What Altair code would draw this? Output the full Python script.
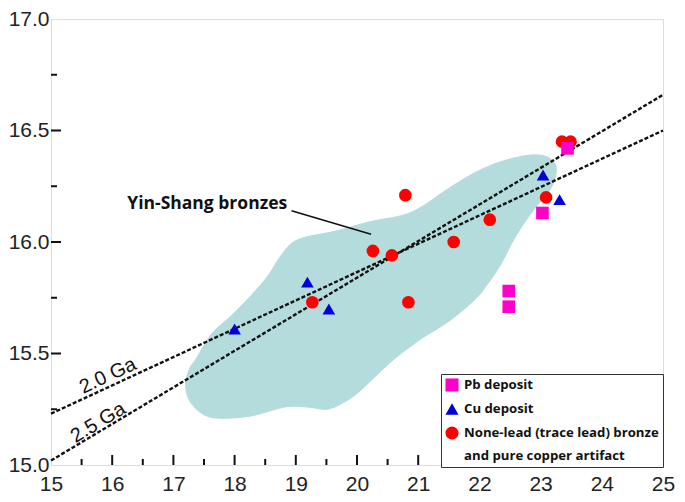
import altair as alt
import pandas as pd

# ---- data ----
types = ["Pb deposit", "Cu deposit", "None-lead (trace lead) bronze|and pure copper artifact"]
colors = ["#ff00cc", "#0000dd", "#ff0000"]
shapes = ["square", "triangle-up", "circle"]

bronze_x = [19.27, 20.26, 20.57, 20.79, 20.84, 21.58, 22.17, 23.09, 23.35, 23.49]
bronze_y = [15.73, 15.96, 15.94, 16.21, 15.73, 16.00, 16.10, 16.20, 16.45, 16.45]
cu_x = [18.00, 19.19, 19.54, 23.04, 23.31]
cu_y = [15.61, 15.82, 15.70, 16.30, 16.19]
pb_x = [23.44, 23.03, 22.48, 22.48]
pb_y = [16.42, 16.13, 15.78, 15.71]

# Yin-Shang bronzes field outline
blob_x = [19.03, 19.67, 20.20, 20.75, 21.07, 21.44, 21.92, 22.35, 22.83, 23.12, 23.25,
          23.23, 23.12, 22.99, 22.77, 22.56, 22.35, 22.13, 21.92, 21.48, 21.07, 20.63,
          20.31, 20.04, 19.78, 19.51, 19.19, 18.82, 18.27, 17.74, 17.47, 17.26, 17.20,
          17.26, 17.38, 17.63, 17.95, 18.27, 18.55, 18.76]
blob_y = [16.01, 16.05, 16.09, 16.12, 16.16, 16.23, 16.31, 16.36, 16.39, 16.38, 16.34,
          16.28, 16.22, 16.18, 16.10, 16.01, 15.90, 15.81, 15.74, 15.64, 15.57, 15.48,
          15.40, 15.33, 15.28, 15.25, 15.26, 15.26, 15.22, 15.21, 15.23, 15.29, 15.36,
          15.43, 15.48, 15.59, 15.67, 15.76, 15.85, 15.94]

# isochron lines
line_x = [15, 25]
ga20_y = [15.23, 16.50]
ga25_y = [15.02, 16.66]
ga_labels = ["2.0 Ga", "2.5 Ga"]
ga_label_x = [15.93, 15.77]
ga_label_y = [15.40, 15.19]

# annotation
ann_text = ["Yin-Shang bronzes"]
ann_x = [18.86]
ann_y = [16.17]
lead_x = [18.93, 20.23]
lead_y = [16.14, 16.035]

# axes
x_ticks = [15, 16, 17, 18, 19, 20, 21, 22, 23, 24, 25]
y_ticks = [15.0, 15.5, 16.0, 16.5, 17.0]
x_major = [16, 17, 18, 19, 20, 21, 22, 23, 24]
x_minor = [15.5, 16.5, 17.5, 18.5, 19.5, 20.5, 21.5, 22.5, 23.5, 24.5]
y_major = [15.5, 16.0, 16.5]
y_minor = [15.25, 15.75, 16.25, 16.75]

W, H = 612, 446
FONT = "Liberation Sans"
X0, Y0 = 15.0, 15.0
# inward tick lengths (in data units: ~10px major, ~6px minor)
XT_MAJ, XT_MIN = 10 / (H / 2), 6 / (H / 2)
YT_MAJ, YT_MIN = 10 / (W / 10), 6 / (W / 10)

# ---- tables ----
pts = pd.DataFrame({
    "x": bronze_x + cu_x + pb_x,
    "y": bronze_y + cu_y + pb_y,
    "type": [types[2]] * len(bronze_x) + [types[1]] * len(cu_x) + [types[0]] * len(pb_x),
})
blob = pd.DataFrame({"x": blob_x, "y": blob_y, "i": list(range(len(blob_x)))})
lines = pd.DataFrame({
    "x": line_x + line_x,
    "y": ga20_y + ga25_y,
    "s": ["2.0"] * 2 + ["2.5"] * 2,
})
ann = pd.DataFrame({"x": ann_x, "y": ann_y, "t": ann_text})
lead = pd.DataFrame({"x": [lead_x[0]], "y": [lead_y[0]], "x2": [lead_x[1]], "y2": [lead_y[1]]})
tick_df = pd.DataFrame({
    "x": [float(v) for v in x_major + x_minor] + [X0] * (len(y_major) + len(y_minor)),
    "x2": [float(v) for v in x_major + x_minor]
          + [X0 + YT_MAJ] * len(y_major) + [X0 + YT_MIN] * len(y_minor),
    "y": [Y0] * (len(x_major) + len(x_minor)) + [float(v) for v in y_major + y_minor],
    "y2": [Y0 + XT_MAJ] * len(x_major) + [Y0 + XT_MIN] * len(x_minor)
          + [float(v) for v in y_major + y_minor],
})

xs = alt.Scale(domain=[15, 25], nice=False, zero=False)
ys = alt.Scale(domain=[15, 17], nice=False, zero=False)
xax = alt.Axis(values=x_ticks, format="d", ticks=False, tickSize=0, domain=False, grid=False,
               labelFont=FONT, labelFontSize=21, labelColor="#222", labelPadding=8,
               labelFlush=False, labelOverlap=False, title=None)
yax = alt.Axis(values=y_ticks, format=".1f", ticks=False, tickSize=0, domain=False, grid=False,
               labelFont=FONT, labelFontSize=21, labelColor="#222", labelPadding=2,
               labelOverlap=False, title=None)


def X(field="x"):
    return alt.X(f"{field}:Q", scale=xs, axis=xax)


def Y(field="y"):
    return alt.Y(f"{field}:Q", scale=ys, axis=yax)


blob_layer = alt.Chart(blob).mark_line(
    interpolate="cardinal-closed", fill="#b4dcdc", stroke="#b4dcdc", strokeWidth=1
).encode(x=X(), y=Y(), order="i:Q")

line_layer = alt.Chart(lines).mark_line(
    color="#111", strokeDash=[4, 2], strokeWidth=2.4
).encode(x=X(), y=Y(), detail="s:N")

ga20 = alt.Chart(pd.DataFrame({"x": [ga_label_x[0]], "y": [ga_label_y[0]], "t": [ga_labels[0]]})).mark_text(
    angle=335, font=FONT, fontSize=20, color="#111"
).encode(x=X(), y=Y(), text="t:N")
ga25 = alt.Chart(pd.DataFrame({"x": [ga_label_x[1]], "y": [ga_label_y[1]], "t": [ga_labels[1]]})).mark_text(
    angle=329, font=FONT, fontSize=20, color="#111"
).encode(x=X(), y=Y(), text="t:N")

ann_layer = alt.Chart(ann).mark_text(
    align="right", baseline="middle", font="Open Sans", fontWeight="bold", fontSize=17.5, color="#111"
).encode(x=X(), y=Y(), text="t:N")
lead_layer = alt.Chart(lead).mark_rule(color="#111", strokeWidth=1.5).encode(
    x=X(), y=Y(), x2="x2:Q", y2="y2:Q")

tick_layer = alt.Chart(tick_df).mark_rule(color="#111", strokeWidth=2, opacity=1).encode(
    x=X(), y=Y(), x2="x2:Q", y2="y2:Q")

leg = alt.Legend(
    title=None, orient="none", legendX=390, legendY=355, direction="vertical",
    labelFont="Open Sans", labelFontWeight="bold", labelFontSize=13.2, labelColor="#111",
    labelLimit=400, labelExpr="split(datum.label, '|')", labelOffset=5,
    symbolSize=170, symbolStrokeWidth=0, symbolOpacity=1,
    strokeColor="#333", fillColor="white", padding=4, rowPadding=10,
)
pt_layer = alt.Chart(pts).mark_point(filled=True, opacity=1, size=160).encode(
    x=X(), y=Y(),
    color=alt.Color("type:N", scale=alt.Scale(domain=types, range=colors), legend=leg),
    shape=alt.Shape("type:N", scale=alt.Scale(domain=types, range=shapes), legend=leg),
)

chart = alt.layer(
    blob_layer, line_layer, ga20, ga25, ann_layer, lead_layer,
    tick_layer, pt_layer,
).properties(width=W, height=H, padding=0).configure_view(
    stroke="#444", strokeWidth=1.5
).configure(
    style={"guide-label": {"lineHeight": 23}}
)

chart.save("out.html", embed_options={"renderer": "svg", "actions": False})
